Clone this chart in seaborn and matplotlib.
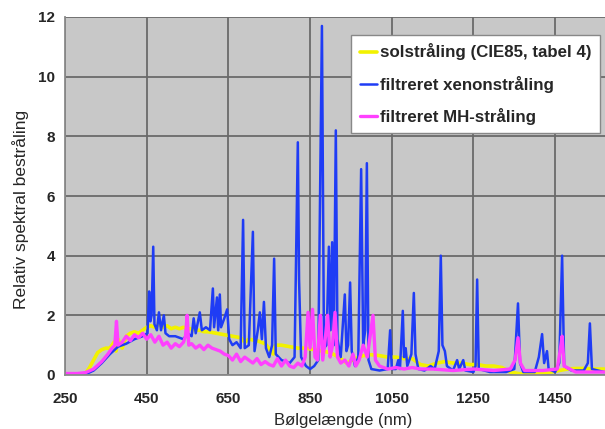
import matplotlib
matplotlib.use("Agg")
import matplotlib.pyplot as plt
import seaborn as sns
import pandas as pd

# --- data ---
sol_wl = [250, 290, 300, 310, 320, 330, 340, 350, 360, 370, 375, 380, 390, 400, 410, 420,
          430, 440, 450, 460, 470, 480, 490, 500, 510, 520, 530, 540, 550, 560, 570, 580,
          590, 600, 620, 640, 660, 680, 690, 700, 720, 740, 760, 765, 780, 800, 820, 840,
          860, 880, 900, 920, 940, 960, 980, 1000, 1020, 1040, 1060, 1080, 1100, 1120,
          1140, 1160, 1180, 1200, 1220, 1240, 1260, 1280, 1300, 1320, 1340, 1360, 1380,
          1400, 1420, 1440, 1460, 1480, 1500, 1520, 1540, 1570]
sol_val = [0.0, 0.0, 0.05, 0.25, 0.5, 0.75, 0.85, 0.9, 0.9, 1.1, 0.8, 1.2, 0.9, 1.3, 1.4,
           1.45, 1.4, 1.5, 1.6, 1.65, 1.6, 1.7, 1.6, 1.65, 1.55, 1.6, 1.55, 1.6, 1.55, 1.55,
           1.5, 1.5, 1.45, 1.45, 1.4, 1.35, 1.3, 1.25, 1.1, 1.2, 1.15, 1.05, 0.7, 1.0, 1.0,
           0.95, 0.9, 0.9, 0.85, 0.8, 0.75, 0.6, 0.4, 0.55, 0.65, 0.68, 0.65, 0.6, 0.6, 0.55,
           0.55, 0.35, 0.3, 0.4, 0.45, 0.4, 0.4, 0.35, 0.35, 0.3, 0.3, 0.25, 0.1, 0.05, 0.02,
           0.03, 0.08, 0.1, 0.15, 0.2, 0.22, 0.22, 0.2, 0.2]

xe_wl = [250, 280, 300, 320, 340, 360, 380, 400, 420, 440, 452, 456, 459, 462, 466, 469,
         475, 480, 485, 492, 496, 505, 520, 540, 550, 560, 565, 570, 580, 585, 595, 605,
         612, 615, 622, 625, 629, 632, 640, 647, 652, 660, 670, 680, 686, 690, 700, 710,
         714, 722, 727, 732, 737, 742, 750, 757, 762, 766, 780, 800, 812, 820, 823, 828,
         840, 850, 860, 870, 879, 884, 890, 896, 900, 904, 908, 913, 917, 925, 935, 939,
         943, 948, 952, 960, 968, 975, 980, 985, 989, 993, 1000, 1020, 1040, 1046, 1050,
         1060, 1066, 1070, 1077, 1080, 1084, 1088, 1098, 1104, 1108, 1115, 1130, 1145,
         1155, 1165, 1170, 1174, 1180, 1185, 1200, 1210, 1215, 1225, 1230, 1250, 1255,
         1259, 1263, 1290, 1330, 1350, 1359, 1364, 1372, 1400, 1410, 1418, 1423, 1430,
         1434, 1450, 1460, 1467, 1472, 1490, 1520, 1530, 1535, 1540, 1570]
xe_val = [0.0, 0.0, 0.02, 0.15, 0.4, 0.7, 0.95, 1.05, 1.2, 1.3, 1.4, 2.8, 1.8, 2.0, 4.3,
          1.7, 1.5, 2.1, 1.5, 2.0, 1.4, 1.3, 1.3, 1.2, 1.4, 1.3, 1.9, 1.4, 2.1, 1.5, 1.6,
          1.5, 2.9, 1.6, 2.6, 1.5, 2.7, 1.6, 1.9, 2.2, 1.2, 1.0, 1.1, 0.9, 5.2, 0.9, 1.0,
          4.8, 0.8, 1.5, 2.1, 1.2, 2.45, 0.9, 0.6, 1.0, 3.9, 0.7, 0.5, 0.4, 0.6, 7.8, 3.2,
          0.6, 0.3, 0.2, 0.3, 0.5, 11.7, 0.9, 1.0, 4.3, 1.5, 4.45, 1.0, 8.2, 1.2, 0.6, 2.7,
          0.8, 1.0, 3.1, 0.8, 0.3, 0.6, 6.9, 1.0, 1.5, 7.1, 0.5, 0.2, 0.15, 0.2, 1.5, 0.2,
          0.2, 0.5, 0.2, 2.15, 0.6, 0.9, 0.3, 0.7, 2.75, 0.7, 0.2, 0.15, 0.3, 0.2, 0.8, 4.0,
          1.0, 0.8, 0.3, 0.15, 0.5, 0.2, 0.5, 0.15, 0.1, 0.3, 3.2, 0.2, 0.1, 0.1, 0.2, 2.4,
          0.4, 0.1, 0.1, 0.6, 1.37, 0.4, 0.8, 0.2, 0.1, 0.4, 4.0, 0.3, 0.15, 0.15, 0.4,
          1.73, 0.2, 0.1]

mh_wl = [250, 280, 300, 320, 340, 355, 365, 372, 376, 380, 390, 400, 410, 420, 430, 440,
         450, 460, 470, 480, 490, 500, 510, 520, 530, 540, 545, 549, 553, 560, 570, 580,
         590, 600, 610, 620, 630, 640, 650, 660, 670, 680, 690, 700, 710, 720, 730, 740,
         750, 760, 770, 780, 790, 800, 810, 820, 830, 838, 845, 850, 856, 862, 868, 875,
         881, 887, 893, 899, 905, 911, 917, 925, 935, 945, 955, 962, 970, 980, 990, 996,
         1004, 1010, 1020, 1040, 1060, 1080, 1100, 1120, 1150, 1200, 1250, 1300, 1340,
         1352, 1359, 1365, 1375, 1420, 1455, 1462, 1467, 1472, 1500, 1570]
mh_val = [0.05, 0.05, 0.08, 0.2, 0.45, 0.7, 0.9, 1.0, 1.8, 1.0, 1.1, 1.3, 1.15, 1.35,
          1.25, 1.4, 1.2, 1.35, 1.1, 1.3, 1.0, 1.1, 0.9, 1.05, 0.95, 1.1, 1.3, 2.0, 1.0,
          1.05, 0.9, 1.0, 0.85, 1.0, 0.9, 0.85, 0.8, 0.7, 0.65, 0.5, 0.7, 0.45, 0.6, 0.5,
          0.4, 0.55, 0.35, 0.45, 0.35, 0.3, 0.55, 0.3, 0.5, 0.3, 0.25, 0.4, 0.3, 0.6, 2.1,
          0.9, 2.2, 0.6, 0.5, 2.0, 0.5, 1.2, 2.0, 0.6, 1.0, 2.1, 0.6, 0.4, 0.5, 0.3, 0.7,
          0.3, 0.5, 1.0, 0.6, 1.2, 2.0, 0.5, 0.3, 0.2, 0.25, 0.2, 0.25, 0.2, 0.2, 0.15, 0.2,
          0.15, 0.2, 0.5, 1.25, 0.4, 0.15, 0.15, 0.2, 0.8, 1.3, 0.3, 0.1, 0.1]

labels = ["solstråling (CIE85, tabel 4)", "filtreret xenonstråling", "filtreret MH-stråling"]
x_ticks = [250, 450, 650, 850, 1050, 1250, 1450]
y_ticks = [0, 2, 4, 6, 8, 10, 12]

sns.set_theme(style="whitegrid")
plt.rcParams["font.family"] = ["Liberation Sans", "DejaVu Sans"]

fig = plt.figure(figsize=(6.05, 4.29), dpi=100)
ax = fig.add_axes([65 / 605, 1 - 375 / 429, 540 / 605, (375 - 17) / 429])
ax.set_facecolor("#c8c8c8")

sol_df = pd.DataFrame({"wl": sol_wl, "val": sol_val})
xe_df = pd.DataFrame({"wl": xe_wl, "val": xe_val})
mh_df = pd.DataFrame({"wl": mh_wl, "val": mh_val})

sns.lineplot(data=sol_df, x="wl", y="val", ax=ax, color="#f2f200", lw=2.6,
             estimator=None, sort=False, label=labels[0])
sns.lineplot(data=xe_df, x="wl", y="val", ax=ax, color="#1f3cf5", lw=1.8,
             estimator=None, sort=False, label=labels[1])
sns.lineplot(data=mh_df, x="wl", y="val", ax=ax, color="#ff40ff", lw=2.4,
             estimator=None, sort=False, label=labels[2])

ax.set_xlim(250, 1572)
ax.set_ylim(0, 12)
ax.set_xticks(x_ticks)
ax.set_yticks(y_ticks)
ax.grid(True, color="#6a6a6a", lw=1.3)
ax.set_axisbelow(True)
for s in ["top", "right"]:
    ax.spines[s].set_visible(False)
for s in ["left", "bottom"]:
    ax.spines[s].set_visible(True)
    ax.spines[s].set_color("#8a8a8a")
    ax.spines[s].set_linewidth(1.3)
ax.tick_params(axis="x", which="major", length=4, width=1, color="#8a8a8a",
               labelsize=11, pad=8)
ax.tick_params(axis="y", which="major", length=4, width=1, color="#8a8a8a",
               labelsize=11, pad=3)
for lab in ax.get_xticklabels() + ax.get_yticklabels():
    lab.set_fontweight("bold")
ax.set_xlabel("Bølgelængde (nm)", fontsize=12)
ax.set_ylabel("Relativ spektral bestråling", fontsize=12.5)
ax.xaxis.set_label_coords((343 - 65) / 540, -(413 - 375) / 358)
ax.yaxis.set_label_coords(-(65 - 29) / 540, (375 - 209) / 358)

leg = ax.legend(loc="upper right", bbox_to_anchor=(600 / 605, 1 - 35 / 429),
                bbox_transform=fig.transFigure,
                frameon=True, fancybox=False, framealpha=1, edgecolor="#888888",
                prop={"weight": "bold", "size": 12.2}, handlelength=1.0,
                handletextpad=0.2, labelspacing=0.9, borderpad=0.5, borderaxespad=0)
leg.get_frame().set_linewidth(1.0)

fig.savefig("out.png", dpi=100, facecolor="white")
